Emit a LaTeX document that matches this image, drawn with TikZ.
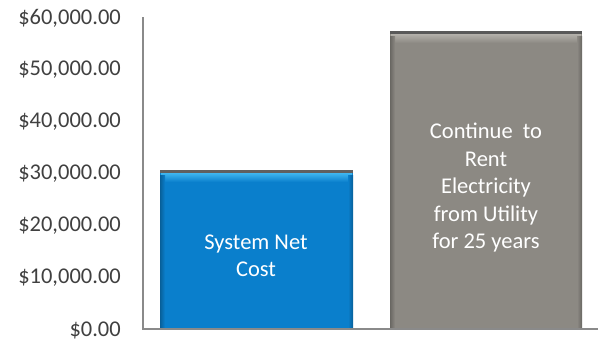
\documentclass[tikz,border=0pt]{standalone}
\usepackage{fontspec}
\setmainfont{Carlito}
\usepackage{xcolor}
\definecolor{netblue}{HTML}{0A7FCC}
\definecolor{netlight}{HTML}{3FB6F0}
\definecolor{rentgray}{HTML}{8C8983}
\definecolor{rentlight}{HTML}{B3B0AA}
\definecolor{axisgray}{HTML}{8A8A8A}
\definecolor{labelgray}{HTML}{404040}

\begin{document}
\begin{tikzpicture}[x=1pt,y=-1pt,
    ylabel/.style={anchor=east,text=labelgray,inner sep=0pt,font=\fontsize{22.5}{25}\selectfont},
    bartext/.style={text=white,align=center,inner sep=0pt,font=\fontsize{22.5}{27.5}\selectfont}]
        \useasboundingbox (0,0) rectangle (602,343);

        % axes
        \coordinate (ytop) at (143,17);
        \coordinate (origin) at (143,329);
        \coordinate (xend) at (598,329);

        % bar: system net cost
        \fill[gray!75!black] (160,170) rectangle (353,329);
        \fill[netblue] (160,173) rectangle (353,329);
        \shade[top color=netlight,bottom color=netblue] (161,173) rectangle (352,182);
        \shade[left color=netblue!75!black,right color=netblue] (160,175) rectangle (165,329);
        \shade[left color=netblue,right color=netblue!75!black] (348,175) rectangle (353,329);
        \node[bartext] (net) at (256,256) {System Net\\Cost};

        % bar: rent from utility
        \fill[gray!70!black] (390,31) rectangle (582,329);
        \fill[rentgray] (390,34) rectangle (582,329);
        \shade[top color=rentlight,bottom color=rentgray] (391,34) rectangle (581,43);
        \shade[left color=rentgray!75!black,right color=rentgray] (390,36) rectangle (395,329);
        \shade[left color=rentgray,right color=rentgray!75!black] (577,36) rectangle (582,329);
        \node[bartext] (rent) at (486,188) {Continue\ \ to\\Rent\\Electricity\\from Utility\\for 25 years};

        \draw[axisgray,line width=1.5pt] (ytop) -- (origin) -- (xend);

        % tick labels
        \foreach \k in {0,...,6} {
            \node[ylabel] (tick\k) at (121,330-52*\k) {\ifnum\k=0 \$0.00\else \$\k0,000.00\fi};
        }
\end{tikzpicture}
\end{document}
